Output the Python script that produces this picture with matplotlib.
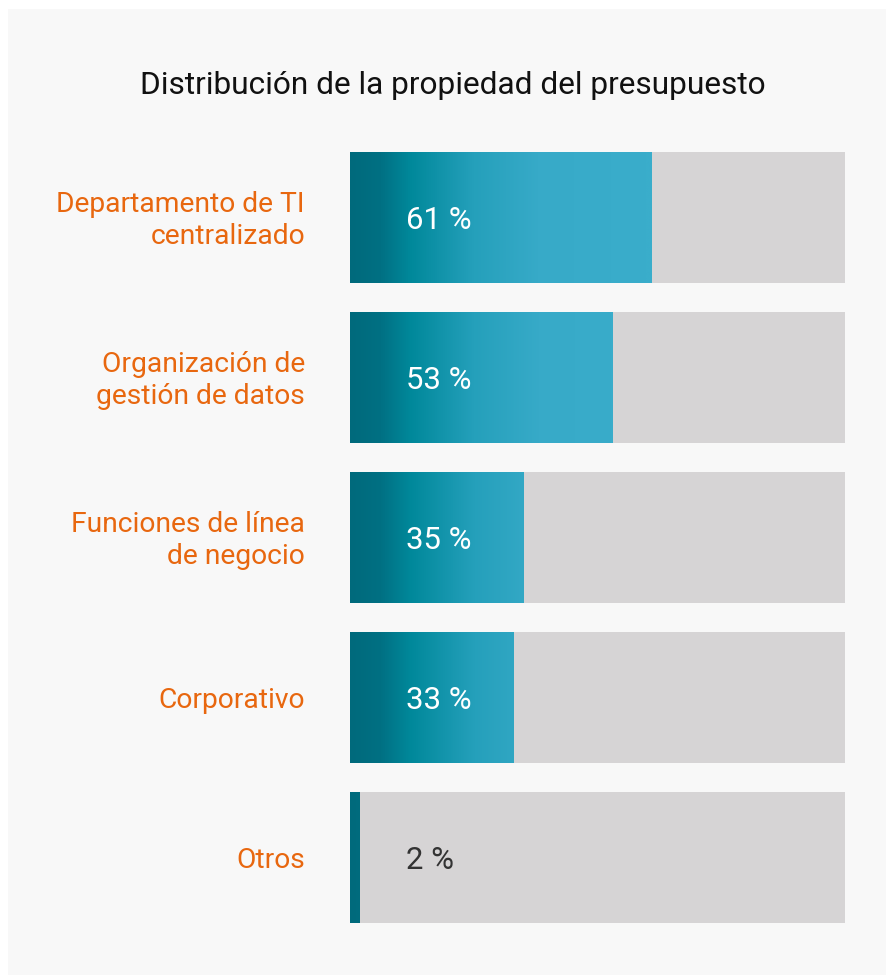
import matplotlib
matplotlib.use("Agg")
import matplotlib.pyplot as plt
import numpy as np
from matplotlib.colors import LinearSegmentedColormap
from matplotlib.patches import Rectangle

categories = ["Departamento de TI\ncentralizado", "Organización de\ngestión de datos",
              "Funciones de línea\nde negocio", "Corporativo", "Otros"]
values = [61, 53, 35, 33, 2]
value_labels = ["61 %", "53 %", "35 %", "33 %", "2 %"]
title = "Distribución de la propiedad del presupuesto"

plt.rcParams['font.family'] = ['Roboto', 'DejaVu Sans']

W, H = 887, 975
fig = plt.figure(figsize=(W / 100, H / 100), dpi=100, facecolor='white')
fig.patches.append(Rectangle((8 / W, 0), 1, 1 - 9 / H, transform=fig.transFigure,
                             facecolor='#f8f8f8', edgecolor='none', zorder=-10))

bar_h = 131 / 160
top_px, bot_px = 152, 923
ax = fig.add_axes([350 / W, 1 - bot_px / H, 495 / W, (bot_px - top_px) / H])
ax.set_facecolor('none')
ax.set_xlim(0, 100)
n = len(values)
ax.set_ylim(n - 1 + bar_h / 2, -bar_h / 2)
ax.axis('off')

cmap = LinearSegmentedColormap.from_list('g', [
    (0.0, '#006a7c'), (0.06, '#007083'), (0.12, '#00889a'),
    (0.25, '#25a0bb'), (0.38, '#37aac8'), (0.6, '#3aadcb'), (1.0, '#3aadcb')])
grad = np.linspace(0, 1, 512).reshape(1, -1)

for i, (v, lab, vl) in enumerate(zip(values, categories, value_labels)):
    ax.barh(i, 100, height=bar_h, color='#d6d4d5', zorder=1)
    rect = Rectangle((0, i - bar_h / 2), v, bar_h, transform=ax.transData,
                     facecolor='none', edgecolor='none')
    ax.add_patch(rect)
    im = ax.imshow(grad, extent=(0, 100, i + bar_h / 2, i - bar_h / 2),
                   aspect='auto', cmap=cmap, zorder=2, interpolation='bilinear')
    im.set_clip_path(rect)
    ax.text(11.3, i + 0.02, vl, ha='left', va='center', fontsize=22.4,
            color='white' if v > 10 else '#333333', zorder=3)
    ax.text(-9.1, i + 0.02, lab, ha='right', va='center', fontsize=20.3,
            color='#e8670f', linespacing=1.25, clip_on=False)

ax.set_xlim(0, 100)
ax.set_ylim(n - 1 + bar_h / 2, -bar_h / 2)

fig.text(453 / W, 1 - 86 / H, title, ha='center', va='center', fontsize=22.8, color='#111111')

fig.savefig('out.png', dpi=100, facecolor='white')
